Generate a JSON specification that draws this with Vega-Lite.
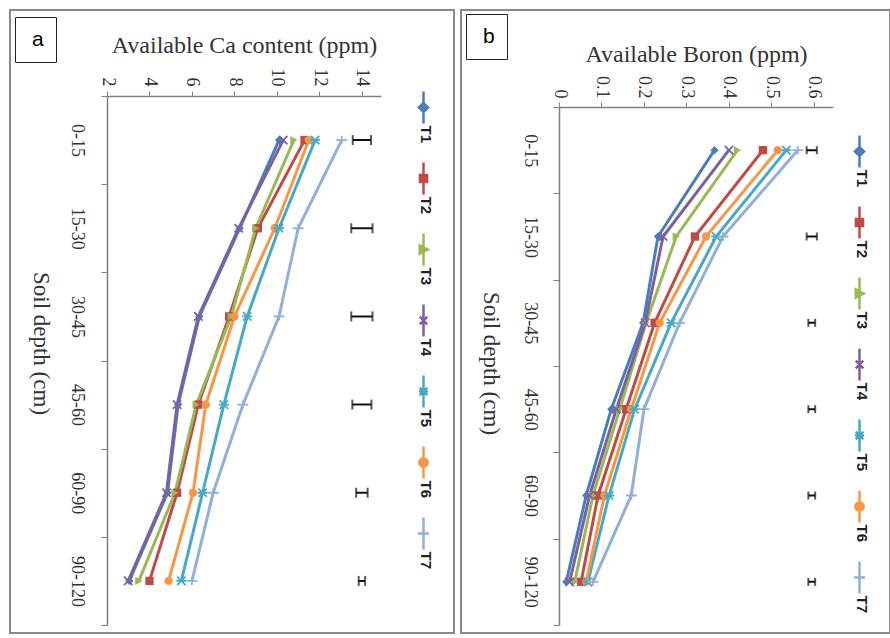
{
  "$schema": "https://vega.github.io/schema/vega-lite/v6.json",
  "padding": {"left": 9, "top": 9, "right": 0, "bottom": 0},
  "spacing": 5,
  "background": "white",
  "config": {
    "view": {"stroke": "#8a8a8a", "strokeWidth": 2},
    "font": "Liberation Serif"
  },
  "datasets": {
    "ca": [
      {"depth": "0-15", "series": "T1", "value": 10.1},
      {"depth": "0-15", "series": "T2", "value": 11.3},
      {"depth": "0-15", "series": "T3", "value": 10.8},
      {"depth": "0-15", "series": "T4", "value": 10.3},
      {"depth": "0-15", "series": "T5", "value": 11.8},
      {"depth": "0-15", "series": "T6", "value": 11.5},
      {"depth": "0-15", "series": "T7", "value": 13.05},
      {"depth": "15-30", "series": "T1", "value": 8.25},
      {"depth": "15-30", "series": "T2", "value": 9.1},
      {"depth": "15-30", "series": "T3", "value": 9.0},
      {"depth": "15-30", "series": "T4", "value": 8.2},
      {"depth": "15-30", "series": "T5", "value": 10.1},
      {"depth": "15-30", "series": "T6", "value": 9.9},
      {"depth": "15-30", "series": "T7", "value": 11.0},
      {"depth": "30-45", "series": "T1", "value": 6.35},
      {"depth": "30-45", "series": "T2", "value": 7.75},
      {"depth": "30-45", "series": "T3", "value": 7.85},
      {"depth": "30-45", "series": "T4", "value": 6.3},
      {"depth": "30-45", "series": "T5", "value": 8.6},
      {"depth": "30-45", "series": "T6", "value": 8.0},
      {"depth": "30-45", "series": "T7", "value": 10.1},
      {"depth": "45-60", "series": "T1", "value": 5.35},
      {"depth": "45-60", "series": "T2", "value": 6.3},
      {"depth": "45-60", "series": "T3", "value": 6.2},
      {"depth": "45-60", "series": "T4", "value": 5.3},
      {"depth": "45-60", "series": "T5", "value": 7.5},
      {"depth": "45-60", "series": "T6", "value": 6.65},
      {"depth": "45-60", "series": "T7", "value": 8.4},
      {"depth": "60-90", "series": "T1", "value": 4.85},
      {"depth": "60-90", "series": "T2", "value": 5.3},
      {"depth": "60-90", "series": "T3", "value": 5.2},
      {"depth": "60-90", "series": "T4", "value": 4.8},
      {"depth": "60-90", "series": "T5", "value": 6.5},
      {"depth": "60-90", "series": "T6", "value": 6.05},
      {"depth": "60-90", "series": "T7", "value": 7.0},
      {"depth": "90-120", "series": "T1", "value": 3.05},
      {"depth": "90-120", "series": "T2", "value": 4.0},
      {"depth": "90-120", "series": "T3", "value": 3.5},
      {"depth": "90-120", "series": "T4", "value": 3.0},
      {"depth": "90-120", "series": "T5", "value": 5.5},
      {"depth": "90-120", "series": "T6", "value": 4.9},
      {"depth": "90-120", "series": "T7", "value": 6.0}
    ],
    "boron": [
      {"depth": "0-15", "series": "T1", "value": 0.366},
      {"depth": "0-15", "series": "T2", "value": 0.48},
      {"depth": "0-15", "series": "T3", "value": 0.42},
      {"depth": "0-15", "series": "T4", "value": 0.40},
      {"depth": "0-15", "series": "T5", "value": 0.535},
      {"depth": "0-15", "series": "T6", "value": 0.515},
      {"depth": "0-15", "series": "T7", "value": 0.562},
      {"depth": "15-30", "series": "T1", "value": 0.233},
      {"depth": "15-30", "series": "T2", "value": 0.32},
      {"depth": "15-30", "series": "T3", "value": 0.276},
      {"depth": "15-30", "series": "T4", "value": 0.245},
      {"depth": "15-30", "series": "T5", "value": 0.37},
      {"depth": "15-30", "series": "T6", "value": 0.346},
      {"depth": "15-30", "series": "T7", "value": 0.386},
      {"depth": "30-45", "series": "T1", "value": 0.198},
      {"depth": "30-45", "series": "T2", "value": 0.225},
      {"depth": "30-45", "series": "T3", "value": 0.205},
      {"depth": "30-45", "series": "T4", "value": 0.203},
      {"depth": "30-45", "series": "T5", "value": 0.264},
      {"depth": "30-45", "series": "T6", "value": 0.237},
      {"depth": "30-45", "series": "T7", "value": 0.284},
      {"depth": "45-60", "series": "T1", "value": 0.123},
      {"depth": "45-60", "series": "T2", "value": 0.158},
      {"depth": "45-60", "series": "T3", "value": 0.143},
      {"depth": "45-60", "series": "T4", "value": 0.135},
      {"depth": "45-60", "series": "T5", "value": 0.178},
      {"depth": "45-60", "series": "T6", "value": 0.17},
      {"depth": "45-60", "series": "T7", "value": 0.2},
      {"depth": "60-90", "series": "T1", "value": 0.064},
      {"depth": "60-90", "series": "T2", "value": 0.092},
      {"depth": "60-90", "series": "T3", "value": 0.08},
      {"depth": "60-90", "series": "T4", "value": 0.072},
      {"depth": "60-90", "series": "T5", "value": 0.118},
      {"depth": "60-90", "series": "T6", "value": 0.107},
      {"depth": "60-90", "series": "T7", "value": 0.17},
      {"depth": "90-120", "series": "T1", "value": 0.017},
      {"depth": "90-120", "series": "T2", "value": 0.052},
      {"depth": "90-120", "series": "T3", "value": 0.037},
      {"depth": "90-120", "series": "T4", "value": 0.025},
      {"depth": "90-120", "series": "T5", "value": 0.068},
      {"depth": "90-120", "series": "T6", "value": 0.064},
      {"depth": "90-120", "series": "T7", "value": 0.08}
    ],
    "ca_err": [
      {"depth": "0-15", "lo": 13.57, "hi": 14.43, "tag": "a"},
      {"depth": "15-30", "lo": 13.5, "hi": 14.5, "tag": "a"},
      {"depth": "30-45", "lo": 13.5, "hi": 14.5, "tag": "a"},
      {"depth": "45-60", "lo": 13.55, "hi": 14.45, "tag": "a"},
      {"depth": "60-90", "lo": 13.73, "hi": 14.27, "tag": "a"},
      {"depth": "90-120", "lo": 13.85, "hi": 14.15, "tag": "a"}
    ],
    "boron_err": [
      {"depth": "0-15", "lo": 0.583, "hi": 0.607, "tag": "b"},
      {"depth": "15-30", "lo": 0.583, "hi": 0.607, "tag": "b"},
      {"depth": "30-45", "lo": 0.587, "hi": 0.603, "tag": "b"},
      {"depth": "45-60", "lo": 0.587, "hi": 0.603, "tag": "b"},
      {"depth": "60-90", "lo": 0.587, "hi": 0.603, "tag": "b"},
      {"depth": "90-120", "lo": 0.587, "hi": 0.603, "tag": "b"}
    ]
  },
  "hconcat": [
    {
      "width": 444,
      "height": 623,
      "layer": [
        {
          "data": {"name": "ca"},
          "mark": {"type": "line", "strokeWidth": 3},
          "encoding": {
            "x": {"field": "value", "type": "quantitative",
              "scale": {"domain": [2, 14.9], "range": [97, 371], "nice": false, "zero": false},
              "axis": {"orient": "top", "offset": -86, "values": [2, 4, 6, 8, 10, 12, 14], "grid": false,
                "tickSize": 5, "tickColor": "#7f7f7f", "domainColor": "#7f7f7f", "domainWidth": 1.5,
                "labelAngle": 90, "labelAlign": "right", "labelBaseline": "middle", "labelPadding": 5, "labelFlush": false,
                "labelFont": "Liberation Serif", "labelFontSize": 18, "labelColor": "#333",
                "title": "Available  Ca content (ppm)", "titleFont": "Liberation Serif", "titleFontSize": 24,
                "titleFontWeight": "normal", "titleColor": "#333", "titlePadding": 11}},
            "y": {"field": "depth", "type": "nominal", "sort": ["0-15", "15-30", "30-45", "45-60", "60-90", "90-120"],
              "scale": {"type": "band", "range": [86, 615], "paddingInner": 0, "paddingOuter": 0},
              "axis": {"orient": "left", "offset": -97, "tickBand": "extent", "tickSize": 6, "tickColor": "#7f7f7f",
                "domainColor": "#7f7f7f", "domainWidth": 1.5,
                "labelAngle": 90, "labelAlign": "center", "labelBaseline": "top", "labelPadding": 16,
                "labelFont": "Liberation Serif", "labelFontSize": 18, "labelColor": "#333",
                "title": "Soil depth (cm)", "titleAngle": 90, "titleBaseline": "top", "titleAlign": "center", "titleFont": "Liberation Serif",
                "titleX": -56, "titleY": 333,
                "titleFontSize": 23, "titleFontWeight": "normal", "titleColor": "#333"}},
            "color": {"field": "series", "type": "nominal",
              "scale": {"domain": ["T1", "T2", "T3", "T4", "T5", "T6", "T7"],
                "range": ["#4a7ebb", "#be4b48", "#98b954", "#7d60a0", "#46aac5", "#f79646", "#92afd8"]},
              "legend": {"title": null, "orient": "none", "legendX": 406, "legendY": 90, "direction": "vertical",
                "symbolType": "M0,-3.8L0,3.8", "symbolSize": 70, "symbolStrokeWidth": 2.5, "rowPadding": 13, "labelOffset": -5, "labelFont": "Liberation Sans",
                "labelFontWeight": "bold", "labelFontSize": 15, "labelColor": "#222",
                "encode": {
                  "labels": {"update": {"angle": {"value": 90}, "dx": {"value": 18}}},
                  "symbols": {"update": {"shape": {"signal": "datum.value=='T1'?'M0,-3.8L0,3.8M-1.1,0L0,-1.1L1.1,0L0,1.1Z':datum.value=='T2'?'M0,-3.8L0,3.8M-0.85,-0.85H0.85V0.85H-0.85Z':datum.value=='T3'?'M0,-3.8L0,3.8M-0.9,-1L1,0L-0.9,1Z':datum.value=='T4'?'M0,-3.8L0,3.8M-0.9,-0.9L0.9,0.9M-0.9,0.9L0.9,-0.9':datum.value=='T5'?'M0,-3.8L0,3.8M-0.9,-0.9L0.9,0.9M-0.9,0.9L0.9,-0.9M-1.1,0L1.1,0':datum.value=='T6'?'M0,-3.8L0,3.8M1,0A1,1,0,1,1,-1,0A1,1,0,1,1,1,0Z':'M0,-3.8L0,3.8M-1.3,0L1.3,0'"}, "strokeWidth": {"value": 2.5}}}
                }}}
          }
        },
        {
          "data": {"name": "ca"},
          "transform": [{"filter": {"field": "series", "oneOf": ["T1", "T2", "T3", "T6"]}}],
          "mark": {"type": "point", "filled": true, "size": 70, "opacity": 1},
          "encoding": {
            "x": {"field": "value", "type": "quantitative", "scale": {"domain": [2, 14.9], "range": [97, 371], "nice": false, "zero": false}},
            "y": {"field": "depth", "type": "nominal", "sort": ["0-15", "15-30", "30-45", "45-60", "60-90", "90-120"]},
            "color": {"field": "series", "type": "nominal"},
            "shape": {"field": "series", "type": "nominal", "legend": null,
              "scale": {"domain": ["T7", "T6", "T5", "T4", "T3", "T2", "T1"],
                "range": ["M-1.3,0L1.3,0M0,-1L0,1", "circle", "M-1,-1L1,1M-1,1L1,-1M-1.2,0L1.2,0", "M-1,-1L1,1M-1,1L1,-1", "triangle-right", "square", "diamond"]}}
          }
        },
        {
          "data": {"name": "ca"},
          "transform": [{"filter": {"field": "series", "oneOf": ["T4", "T5", "T7"]}}],
          "mark": {"type": "point", "filled": false, "size": 70, "strokeWidth": 1.8, "opacity": 1},
          "encoding": {
            "x": {"field": "value", "type": "quantitative", "scale": {"domain": [2, 14.9], "range": [97, 371], "nice": false, "zero": false}},
            "y": {"field": "depth", "type": "nominal", "sort": ["0-15", "15-30", "30-45", "45-60", "60-90", "90-120"]},
            "color": {"field": "series", "type": "nominal"},
            "shape": {"field": "series", "type": "nominal", "legend": null}
          }
        },
        {
          "data": {"name": "ca_err"},
          "mark": {"type": "rule", "color": "#111", "strokeWidth": 2},
          "encoding": {
            "x": {"field": "lo", "type": "quantitative", "scale": {"domain": [2, 14.9], "range": [97, 371], "nice": false, "zero": false}},
            "x2": {"field": "hi"},
            "y": {"field": "depth", "type": "nominal", "sort": ["0-15", "15-30", "30-45", "45-60", "60-90", "90-120"]},
            "strokeDash": {"field": "tag", "type": "nominal", "scale": {"range": [[1, 0]]},
              "legend": {"title": null, "orient": "none", "legendX": 5, "legendY": 7, "strokeColor": "#222",
                "fillColor": "white", "padding": 12, "symbolSize": 0, "symbolStrokeWidth": 0, "symbolOpacity": 0,
                "labelOffset": -16, "labelFont": "Liberation Sans", "labelFontSize": 21, "labelColor": "#000"}}
          }
        },
        {
          "data": {"name": "ca_err"},
          "mark": {"type": "tick", "color": "#111", "thickness": 2, "size": 10},
          "encoding": {
            "x": {"field": "lo", "type": "quantitative", "scale": {"domain": [2, 14.9], "range": [97, 371], "nice": false, "zero": false}},
            "y": {"field": "depth", "type": "nominal", "sort": ["0-15", "15-30", "30-45", "45-60", "60-90", "90-120"]}
          }
        },
        {
          "data": {"name": "ca_err"},
          "mark": {"type": "tick", "color": "#111", "thickness": 2, "size": 10},
          "encoding": {
            "x": {"field": "hi", "type": "quantitative", "scale": {"domain": [2, 14.9], "range": [97, 371], "nice": false, "zero": false}},
            "y": {"field": "depth", "type": "nominal", "sort": ["0-15", "15-30", "30-45", "45-60", "60-90", "90-120"]}
          }
        }
      ]
    },
    {
      "width": 429,
      "height": 623,
      "layer": [
        {
          "data": {"name": "boron"},
          "mark": {"type": "line", "strokeWidth": 3},
          "encoding": {
            "x": {"field": "value", "type": "quantitative",
              "scale": {"domain": [0, 0.645], "range": [98, 372], "nice": false, "zero": false},
              "axis": {"orient": "top", "offset": -97, "values": [0, 0.1, 0.2, 0.3, 0.4, 0.5, 0.6], "format": "~g", "grid": false,
                "tickSize": 5, "tickColor": "#7f7f7f", "domainColor": "#7f7f7f", "domainWidth": 1.5,
                "labelAngle": 90, "labelAlign": "right", "labelBaseline": "middle", "labelPadding": 4, "labelFlush": false,
                "labelFont": "Liberation Serif", "labelFontSize": 18, "labelColor": "#333",
                "title": "Available  Boron (ppm)", "titleFont": "Liberation Serif", "titleFontSize": 24,
                "titleFontWeight": "normal", "titleColor": "#333", "titlePadding": 9}},
            "y": {"field": "depth", "type": "nominal", "sort": ["0-15", "15-30", "30-45", "45-60", "60-90", "90-120"],
              "scale": {"type": "band", "range": [97, 615], "paddingInner": 0, "paddingOuter": 0},
              "axis": {"orient": "left", "offset": -98, "tickBand": "extent", "tickSize": 6, "tickColor": "#7f7f7f",
                "domainColor": "#7f7f7f", "domainWidth": 1.5,
                "labelAngle": 90, "labelAlign": "center", "labelBaseline": "top", "labelPadding": 15,
                "labelFont": "Liberation Serif", "labelFontSize": 18, "labelColor": "#333",
                "title": "Soil depth (cm)", "titleAngle": 90, "titleBaseline": "top", "titleAlign": "center", "titleFont": "Liberation Serif",
                "titleX": -58, "titleY": 353,
                "titleFontSize": 23, "titleFontWeight": "normal", "titleColor": "#333"}},
            "color": {"field": "series", "type": "nominal",
              "scale": {"domain": ["T1", "T2", "T3", "T4", "T5", "T6", "T7"],
                "range": ["#4a7ebb", "#be4b48", "#98b954", "#7d60a0", "#46aac5", "#f79646", "#92afd8"]},
              "legend": {"title": null, "orient": "none", "legendX": 391, "legendY": 134, "direction": "vertical",
                "symbolType": "M0,-3.8L0,3.8", "symbolSize": 70, "symbolStrokeWidth": 2.5, "rowPadding": 13, "labelOffset": -5, "labelFont": "Liberation Sans",
                "labelFontWeight": "bold", "labelFontSize": 15, "labelColor": "#222",
                "encode": {
                  "labels": {"update": {"angle": {"value": 90}, "dx": {"value": 18}}},
                  "symbols": {"update": {"shape": {"signal": "datum.value=='T1'?'M0,-3.8L0,3.8M-1.1,0L0,-1.1L1.1,0L0,1.1Z':datum.value=='T2'?'M0,-3.8L0,3.8M-0.85,-0.85H0.85V0.85H-0.85Z':datum.value=='T3'?'M0,-3.8L0,3.8M-0.9,-1L1,0L-0.9,1Z':datum.value=='T4'?'M0,-3.8L0,3.8M-0.9,-0.9L0.9,0.9M-0.9,0.9L0.9,-0.9':datum.value=='T5'?'M0,-3.8L0,3.8M-0.9,-0.9L0.9,0.9M-0.9,0.9L0.9,-0.9M-1.1,0L1.1,0':datum.value=='T6'?'M0,-3.8L0,3.8M1,0A1,1,0,1,1,-1,0A1,1,0,1,1,1,0Z':'M0,-3.8L0,3.8M-1.3,0L1.3,0'"}, "strokeWidth": {"value": 2.5}}}
                }}}
          }
        },
        {
          "data": {"name": "boron"},
          "transform": [{"filter": {"field": "series", "oneOf": ["T1", "T2", "T3", "T6"]}}],
          "mark": {"type": "point", "filled": true, "size": 70, "opacity": 1},
          "encoding": {
            "x": {"field": "value", "type": "quantitative", "scale": {"domain": [0, 0.645], "range": [98, 372], "nice": false, "zero": false}},
            "y": {"field": "depth", "type": "nominal", "sort": ["0-15", "15-30", "30-45", "45-60", "60-90", "90-120"]},
            "color": {"field": "series", "type": "nominal"},
            "shape": {"field": "series", "type": "nominal", "legend": null,
              "scale": {"domain": ["T7", "T6", "T5", "T4", "T3", "T2", "T1"],
                "range": ["M-1.3,0L1.3,0M0,-1L0,1", "circle", "M-1,-1L1,1M-1,1L1,-1M-1.2,0L1.2,0", "M-1,-1L1,1M-1,1L1,-1", "triangle-right", "square", "diamond"]}}
          }
        },
        {
          "data": {"name": "boron"},
          "transform": [{"filter": {"field": "series", "oneOf": ["T4", "T5", "T7"]}}],
          "mark": {"type": "point", "filled": false, "size": 70, "strokeWidth": 1.8, "opacity": 1},
          "encoding": {
            "x": {"field": "value", "type": "quantitative", "scale": {"domain": [0, 0.645], "range": [98, 372], "nice": false, "zero": false}},
            "y": {"field": "depth", "type": "nominal", "sort": ["0-15", "15-30", "30-45", "45-60", "60-90", "90-120"]},
            "color": {"field": "series", "type": "nominal"},
            "shape": {"field": "series", "type": "nominal", "legend": null}
          }
        },
        {
          "data": {"name": "boron_err"},
          "mark": {"type": "rule", "color": "#111", "strokeWidth": 2},
          "encoding": {
            "x": {"field": "lo", "type": "quantitative", "scale": {"domain": [0, 0.645], "range": [98, 372], "nice": false, "zero": false}},
            "x2": {"field": "hi"},
            "y": {"field": "depth", "type": "nominal", "sort": ["0-15", "15-30", "30-45", "45-60", "60-90", "90-120"]},
            "strokeDash": {"field": "tag", "type": "nominal", "scale": {"range": [[1, 0]]},
              "legend": {"title": null, "orient": "none", "legendX": 5, "legendY": 4, "strokeColor": "#222",
                "fillColor": "white", "padding": 12, "symbolSize": 0, "symbolStrokeWidth": 0, "symbolOpacity": 0,
                "labelOffset": -16, "labelFont": "Liberation Sans", "labelFontSize": 21, "labelColor": "#000"}}
          }
        },
        {
          "data": {"name": "boron_err"},
          "mark": {"type": "tick", "color": "#111", "thickness": 2, "size": 8},
          "encoding": {
            "x": {"field": "lo", "type": "quantitative", "scale": {"domain": [0, 0.645], "range": [98, 372], "nice": false, "zero": false}},
            "y": {"field": "depth", "type": "nominal", "sort": ["0-15", "15-30", "30-45", "45-60", "60-90", "90-120"]}
          }
        },
        {
          "data": {"name": "boron_err"},
          "mark": {"type": "tick", "color": "#111", "thickness": 2, "size": 8},
          "encoding": {
            "x": {"field": "hi", "type": "quantitative", "scale": {"domain": [0, 0.645], "range": [98, 372], "nice": false, "zero": false}},
            "y": {"field": "depth", "type": "nominal", "sort": ["0-15", "15-30", "30-45", "45-60", "60-90", "90-120"]}
          }
        }
      ]
    }
  ],
  "resolve": {
    "scale": {"x": "independent", "y": "independent", "color": "independent", "shape": "independent", "strokeDash": "independent"},
    "legend": {"color": "independent", "shape": "independent", "strokeDash": "independent"},
    "axis": {"x": "independent", "y": "independent"}
  }
}
